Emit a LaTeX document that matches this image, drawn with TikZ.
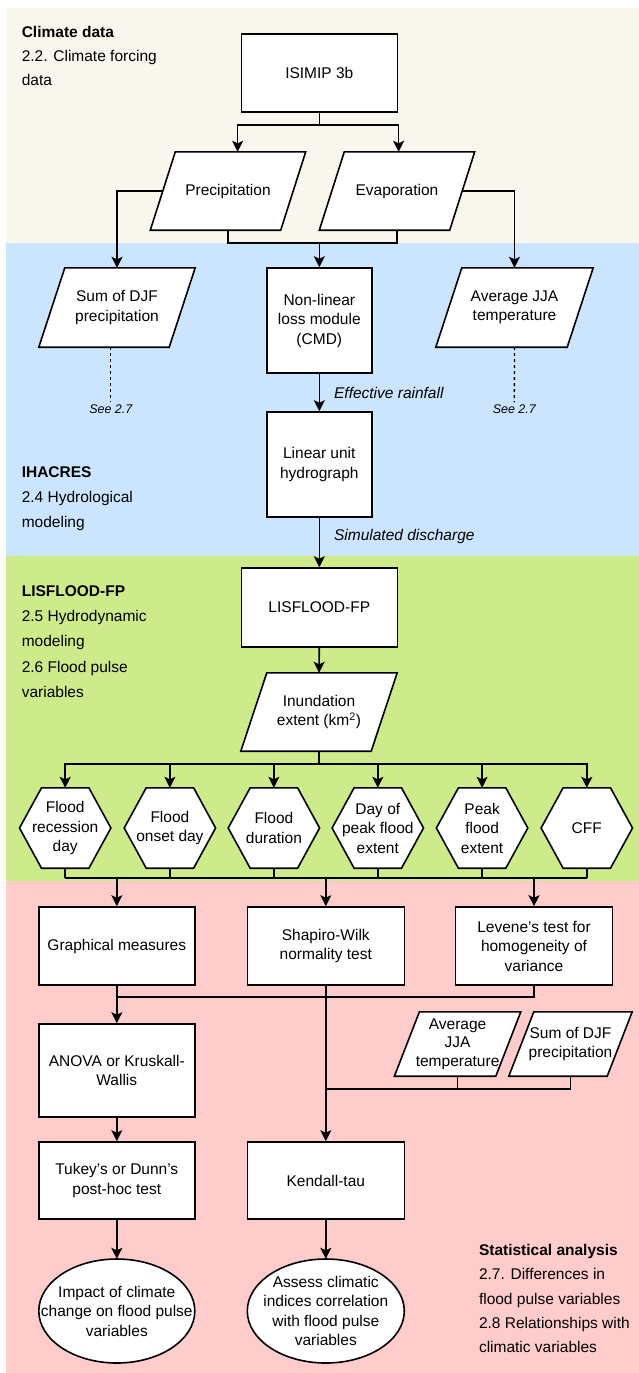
\documentclass[tikz,border=0pt]{standalone}
\usepackage{fontspec}
\setmainfont{Liberation Sans}
\usetikzlibrary{arrows.meta,calc}
\pgfdeclarelayer{bands}
\pgfdeclarelayer{outlines}
\pgfsetlayers{bands,outlines,main}
\definecolor{bandbeige}{HTML}{F9F7ED}
\definecolor{bandblue}{HTML}{CCE5FF}
\definecolor{bandgreen}{HTML}{CDEB8B}
\definecolor{bandpink}{HTML}{FFCCCC}
\newcommand\mainfs{\fontsize{15.5}{19.5}\selectfont}
\newcommand\smallit{\fontsize{12.5}{15}\selectfont\itshape}
\tikzset{
  box/.style={draw, fill=white, line width=1.6pt, inner sep=0pt, align=center, font=\mainfs},
  txt/.style={inner sep=0pt, align=center, font=\mainfs},
  outl/.style={draw, fill=white, line width=1.6pt, line join=miter},
  plain/.style={line width=1.6pt},
  conn/.style={line width=1.6pt, -{Stealth[length=11pt,width=11pt,inset=2.5pt]}},
  dashline/.style={line width=1.3pt, dash pattern=on 3pt off 3pt},
  elbl/.style={anchor=west, inner sep=0pt, xshift=14pt, font=\mainfs\itshape},
  seetxt/.style={inner sep=2pt, font=\smallit},
  side/.style={anchor=west, inner sep=0pt, font=\mainfs, text height=11.3pt, text depth=3.3pt},
  sideb/.style={side, font=\mainfs\bfseries},
}
\newcommand\parog[2]{%
  \draw[outl] ([xshift=-#2pt]#1.south west) -- ([xshift=#2pt]#1.north west)
    -- ([xshift=#2pt]#1.north east) -- ([xshift=-#2pt]#1.south east) -- cycle;}
\newcommand\hexo[1]{%
  \draw[outl] (#1.west) -- ([xshift=22pt]#1.north west) -- ([xshift=-22pt]#1.north east)
    -- (#1.east) -- ([xshift=-22pt]#1.south east) -- ([xshift=22pt]#1.south west) -- cycle;}
\begin{document}
\begin{tikzpicture}[x=1pt,y=-1pt]
\useasboundingbox (0,0) rectangle (639,1373);
\begin{pgfonlayer}{bands}
  \fill[bandbeige] (6,8) rectangle (639,243);
  \fill[bandblue] (6,243) rectangle (639,556);
  \fill[bandgreen] (6,556) rectangle (639,881);
  \fill[bandpink] (6,881) rectangle (639,1373);
\end{pgfonlayer}

% side texts
\node[sideb] (t1) at (21.6,33) {Climate data};
\node[side] (t2) at (21.6,57) {2.2. Climate forcing};
\node[side] (t3) at (21.6,81) {data};
\node[sideb] (t4) at (21.6,473) {IHACRES};
\node[side] (t5) at (21.6,498) {2.4 Hydrological};
\node[side] (t6) at (21.6,523) {modeling};
\node[sideb] (t7) at (21.6,592) {LISFLOOD-FP};
\node[side] (t8) at (21.6,617) {2.5 Hydrodynamic};
\node[side] (t9) at (21.6,642) {modeling};
\node[side] (t10) at (21.6,668) {2.6 Flood pulse};
\node[side] (t11) at (21.6,693) {variables};
\node[sideb] (t12) at (478.8,1251) {Statistical analysis};
\node[side] (t13) at (478.8,1275) {2.7. Differences in};
\node[side] (t14) at (478.8,1300) {flood pulse variables};
\node[side] (t15) at (478.8,1324) {2.8 Relationships with};
\node[side] (t16) at (478.8,1348) {climatic variables};

% nodes
\node[box, minimum width=156pt, minimum height=78pt] (isimip) at (319.3,73) {ISIMIP 3b};
\node[txt, minimum width=130pt, minimum height=78pt] (prec) at (228,191) {Precipitation};
\node[txt, minimum width=130pt, minimum height=78pt] (evap) at (397,191) {Evaporation};
\node[txt, minimum width=130pt, minimum height=79pt] (sum) at (117,307.5) {Sum of DJF\\precipitation};
\node[box, minimum width=105pt, minimum height=105pt] (nonlin) at (319.3,320.5) {Non-linear\\loss module\\(CMD)};
\node[txt, minimum width=131pt, minimum height=79pt] (avg) at (514.5,307.5) {Average JJA\\temperature};
\node[seetxt] (see1) at (110.8,409) {See 2.7};
\node[seetxt] (see2) at (514.3,409) {See 2.7};
\node[box, minimum width=105pt, minimum height=105pt] (linear) at (319.3,464.5) {Linear unit\\hydrograph};
\node[box, minimum width=156pt, minimum height=79pt] (lisflood) at (319.3,607.5) {LISFLOOD-FP};
\node[txt, minimum width=130pt, minimum height=78pt] (inund) at (319,712) {Inundation\\extent (km\textsuperscript{2})};

\node[txt, minimum width=91pt, minimum height=80pt] (h1) at (65.2,828) {Flood\\recession\\day};
\node[txt, minimum width=91pt, minimum height=80pt] (h2) at (169.9,828) {Flood\\onset day};
\node[txt, minimum width=91pt, minimum height=80pt] (h3) at (273.9,828) {Flood\\duration};
\node[txt, minimum width=91pt, minimum height=80pt] (h4) at (377.8,828) {Day of\\peak flood\\extent};
\node[txt, minimum width=91pt, minimum height=80pt] (h5) at (482.1,828) {Peak\\flood\\extent};
\node[txt, minimum width=91pt, minimum height=80pt] (h6) at (586.8,828) {CFF};

\node[box, minimum width=156pt, minimum height=78pt] (graph) at (116.8,946) {Graphical measures};
\node[box, minimum width=157pt, minimum height=78pt] (shap) at (325.8,946) {Shapiro-Wilk\\normality test};
\node[box, minimum width=157pt, minimum height=78pt] (lev) at (534,946) {Levene's test for\\homogeneity of\\variance};
\node[box, minimum width=156pt, minimum height=93pt] (anova) at (116.8,1070.5) {ANOVA or Kruskall-\\Wallis};
\node[txt, minimum width=101pt, minimum height=64pt, font=\fontsize{15.5}{18.5}\selectfont] (avg2) at (457.6,1044) {Average\\JJA\\temperature};
\node[txt, minimum width=98pt, minimum height=64pt] (sum2) at (570.5,1044) {Sum of DJF\\precipitation};
\node[box, minimum width=156pt, minimum height=77pt] (tukey) at (116.8,1180.5) {Tukey's or Dunn's\\post-hoc test};
\node[box, minimum width=157pt, minimum height=77pt] (kend) at (325.8,1180.5) {Kendall-tau};
\node[txt, minimum width=156pt, minimum height=104pt] (ell1) at (116.8,1311) {Impact of climate\\change on flood pulse\\variables};
\node[txt, minimum width=157pt, minimum height=104pt] (ell2) at (325.8,1311) {Assess climatic\\indices correlation\\with flood pulse\\variables};

% outlines of non-rectangular shapes
\begin{pgfonlayer}{outlines}
  \parog{prec}{12.5}
  \parog{evap}{12.5}
  \parog{sum}{13}
  \parog{avg}{13}
  \parog{inund}{13}
  \parog{avg2}{12.5}
  \parog{sum2}{12.5}
  \hexo{h1}\hexo{h2}\hexo{h3}\hexo{h4}\hexo{h5}\hexo{h6}
  \draw[outl] (ell1.center) ellipse [x radius=78, y radius=52];
  \draw[outl] (ell2.center) ellipse [x radius=78.5, y radius=52];
\end{pgfonlayer}

% connectors
\coordinate (split1) at (319.3,125);
\draw[plain] (isimip.south) -- (split1);
\draw[conn] (split1) -| ([xshift=9.6pt]prec.north);
\draw[conn] (split1) -| ([xshift=1.6pt]evap.north);
\draw[conn] (prec.west) -| (sum.north);
\draw[conn] (evap.east) -| (avg.north);
\coordinate (j1) at (319.3,243);
\draw[plain] (prec.south) |- (j1) -| (evap.south);
\draw[conn] (j1) -- (nonlin.north);
\draw[dashline] ([xshift=-6.2pt]sum.south) -- (see1.north);
\draw[dashline] (avg.south) -- (see2.north);
\draw[conn] (nonlin.south) -- node[elbl, pos=0.5] (lab1) {Effective rainfall} (linear.north);
\draw[conn] (linear.south) -- node[elbl, pos=0.38] (lab2) {Simulated discharge} (lisflood.north);
\draw[conn] (lisflood.south) -- (inund.north);
\coordinate (hsplit) at (319,764);
\foreach \h in {h1,h2,h3,h4,h5,h6} {
  \draw[conn] (inund.south) -- (hsplit) -| (\h.north);
}
\coordinate (bjoin) at (319,878);
\foreach \h in {h1,h2,h3,h4,h5,h6} {
  \draw[plain] (\h.south) -- (\h.south |- bjoin);
}
\draw[plain] (h1.south |- bjoin) -- (h6.south |- bjoin);
\draw[conn] (graph.north |- bjoin) -- (graph.north);
\draw[conn] (shap.north |- bjoin) -- (shap.north);
\draw[conn] (lev.north |- bjoin) -- (lev.north);
\coordinate (j2) at (116.8,997);
\draw[plain] (graph.south) -- (j2);
\draw[conn] (j2) -- (anova.north);
\draw[plain] (lev.south) |- (j2);
\draw[conn] (shap.south) -- (kend.north);
\coordinate (j3) at (325.8,1089);
\draw[plain] (avg2.south) |- (j3);
\draw[plain] (sum2.south) |- (j3);
\draw[conn] (anova.south) -- (tukey.north);
\draw[conn] (tukey.south) -- (ell1.north);
\draw[conn] (kend.south) -- (ell2.north);
\end{tikzpicture}
\end{document}
